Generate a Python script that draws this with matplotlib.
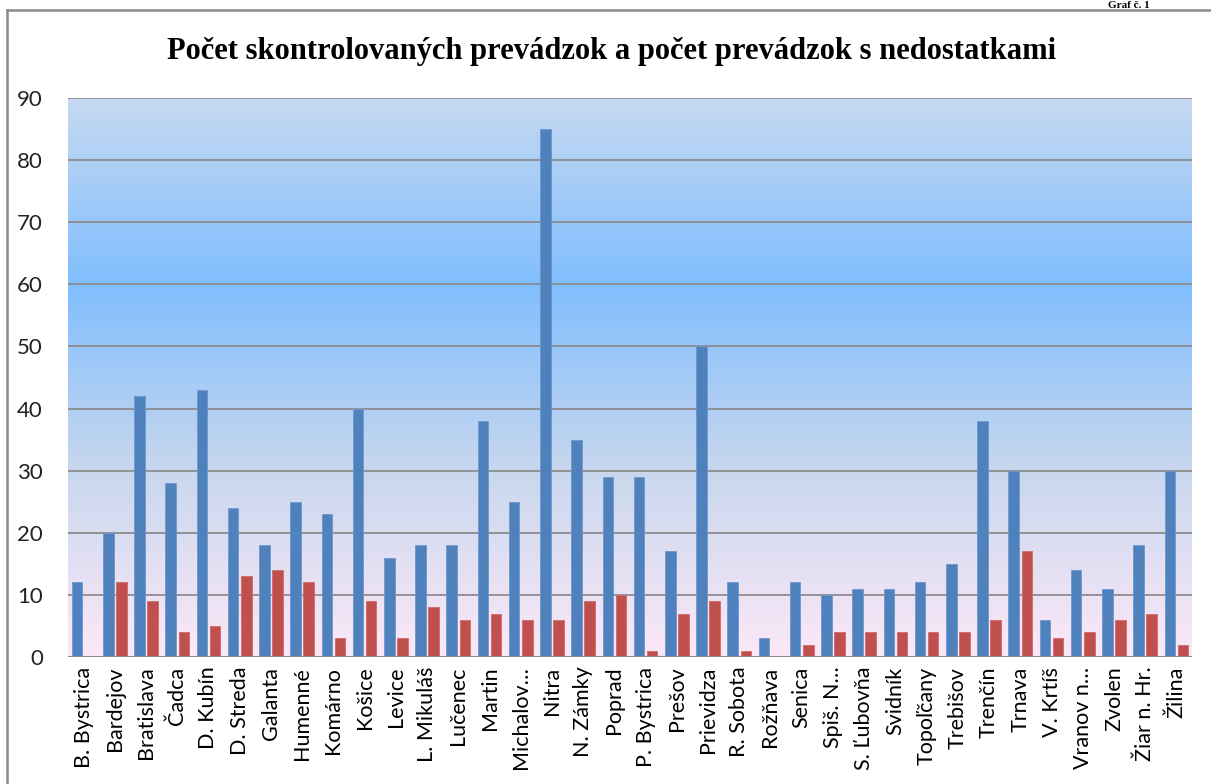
import numpy as np
import matplotlib
matplotlib.use("Agg")
import matplotlib.pyplot as plt
from matplotlib.colors import LinearSegmentedColormap
from matplotlib.lines import Line2D

categories = ["B. Bystrica", "Bardejov", "Bratislava", "Čadca", "D. Kubín", "D. Streda",
              "Galanta", "Humenné", "Komárno", "Košice", "Levice", "L. Mikuláš",
              "Lučenec", "Martin", "Michalov…", "Nitra", "N. Zámky", "Poprad",
              "P. Bystrica", "Prešov", "Prievidza", "R. Sobota", "Rožňava", "Senica",
              "Spiš. N…", "S. Ľubovňa", "Svidník", "Topoľčany", "Trebišov", "Trenčín",
              "Trnava", "V. Krtíš", "Vranov n…", "Zvolen", "Žiar n. Hr.", "Žilina"]
kontrolovane = [12, 20, 42, 28, 43, 24, 18, 25, 23, 40, 16, 18,
                18, 38, 25, 85, 35, 29, 29, 17, 50, 12, 3, 12,
                10, 11, 11, 12, 15, 38, 30, 6, 14, 11, 18, 30]
nedostatky = [0, 12, 9, 4, 5, 13, 14, 12, 3, 9, 3, 8,
              6, 7, 6, 6, 9, 10, 1, 7, 9, 1, 0, 2,
              4, 4, 4, 4, 4, 6, 17, 3, 4, 6, 7, 2]
yticks = [0, 10, 20, 30, 40, 50, 60, 70, 80, 90]
title = "Počet skontrolovaných prevádzok a počet prevádzok s nedostatkami"

W, H = 1211, 784
fig = plt.figure(figsize=(W / 100, H / 100), dpi=100)
fig.patch.set_facecolor("white")
ax = fig.add_axes([68 / W, 1 - 657 / H, (1192 - 68) / W, (657 - 98) / H])

n = len(categories)
x = np.arange(n)

# gradient background
cmap = LinearSegmentedColormap.from_list(
    "bg",
    [(0.0, (252 / 255, 232 / 255, 248 / 255)),
     (1 / 3, (200 / 255, 215 / 255, 238 / 255)),
     (2 / 3, (128 / 255, 190 / 255, 255 / 255)),
     (1.0, (198 / 255, 217 / 255, 241 / 255))])
grad = np.linspace(0, 1, 256).reshape(-1, 1)
ax.imshow(grad, aspect="auto", cmap=cmap, origin="lower",
          extent=(-0.5, n - 0.5, 0, 90), zorder=0)

bw = 0.34
ax.bar(x - 0.21, kontrolovane, width=bw, color="#4f81bd", edgecolor="#6d97cc",
       linewidth=0.6, zorder=3)
ax.bar(x + 0.21, nedostatky, width=bw, color="#c0504d", edgecolor="#d06a67",
       linewidth=0.6, zorder=3)

ax.set_xlim(-0.5, n - 0.5)
ax.set_ylim(0, 90)
ax.set_yticks(yticks)
for yv in yticks[1:]:
    ax.axhline(yv, color="#8c8c8c", linewidth=1.3, zorder=2)
ax.axhline(0, color="#8c8c8c", linewidth=1.5, zorder=4)

for s in ax.spines.values():
    s.set_visible(False)
ax.tick_params(axis="both", length=0)
ax.tick_params(axis="y", pad=18)
ax.set_yticklabels([str(v) for v in yticks], fontsize=16, family="Lato", color="#222222")
ax.set_xticks(x)
ax.set_xticklabels(categories, rotation=90, fontsize=15.5, family="Lato",
                   color="black", va="top", ha="center")
ax.tick_params(axis="x", pad=7)

fig.text(0.505, 1 - 51 / H, title, ha="center", va="center", fontsize=22,
         fontweight="bold", family="Liberation Serif")

# outer chart frame (partly outside the picture)
fig.add_artist(Line2D([7 / W, 7 / W], [0, 1 - 10 / H], transform=fig.transFigure,
                      color="#8a8a8a", linewidth=1.8))
fig.add_artist(Line2D([7 / W, 1], [1 - 10 / H, 1 - 10 / H], transform=fig.transFigure,
                      color="#8a8a8a", linewidth=1.8))
fig.text(1108 / W, 1 - 0.5 / H, "Graf č. 1", ha="left", va="top", fontsize=8,
         family="Liberation Serif", fontweight="bold")

fig.savefig("out.png", dpi=100)
